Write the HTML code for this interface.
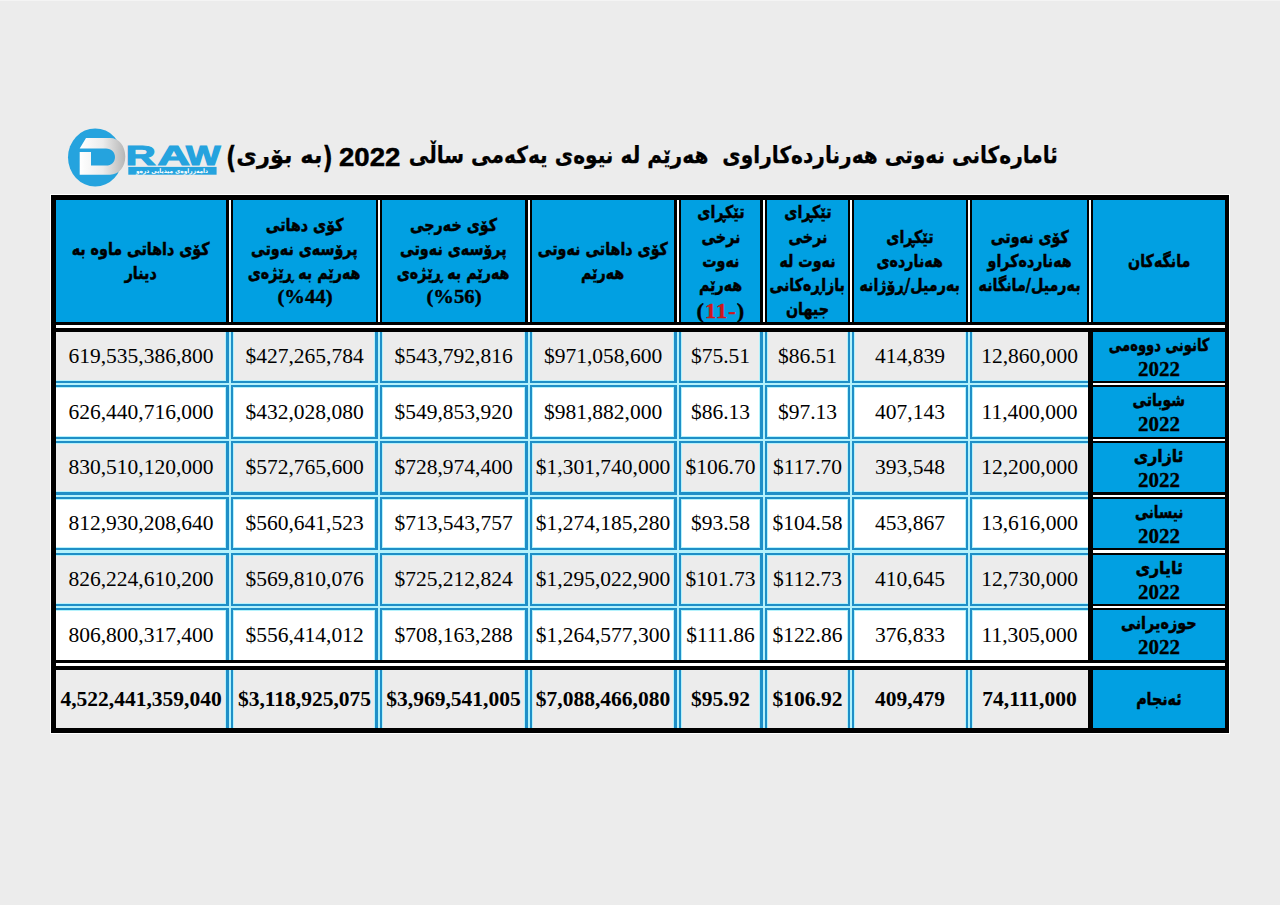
<!DOCTYPE html>
<html lang="ckb"><head><meta charset="utf-8"><title>ئامارەکانی نەوتی هەرێم</title>
<style>
html,body{margin:0;padding:0}
body{width:1280px;height:905px;background:#ececec;position:relative;overflow:hidden}
.a{position:absolute;box-sizing:border-box}
.c{display:flex;align-items:center;justify-content:center;text-align:center}
.col{display:flex;flex-direction:column;align-items:center;justify-content:center}
.hb{background:#01a0e2}
.k{font-family:"DejaVu Sans",sans-serif;font-weight:bold;color:#000;-webkit-text-stroke:.5px #000}
.hl{font-size:17.5px;height:24.25px;line-height:24.25px;direction:rtl;white-space:nowrap;transform:scaleX(.815)}
.hn{height:24.25px;line-height:24.25px;white-space:nowrap}
.n{font-family:"Liberation Serif",serif;font-weight:bold;font-size:19.5px;-webkit-text-stroke:.4px currentColor;display:inline-block;transform:scaleX(1.06)}
.red{color:#d0151b}
.pp{display:inline-block;transform:translateY(2.6px) scaleY(1.3)}
.num{font-family:"Liberation Serif",serif;font-size:21.5px;color:#000;white-space:nowrap}
.b{font-weight:bold}
.g{background:#ececec}
.w{background:#fff}
.bl{background:#1f8fc7}
.lc{background:#b4f2fc}
.blk{background:#000}
.wh{background:#fff}
</style></head><body>
<div class="a " style="left:0px;top:0px;width:1280px;height:1px;background:#f4f4f4"></div>
<svg class="a" style="left:0;top:0" width="240" height="195" viewBox="0 0 240 195">
<defs><linearGradient id="dg" gradientUnits="userSpaceOnUse" x1="80" y1="0" x2="126" y2="0"><stop offset="0" stop-color="#ffffff"/><stop offset=".5" stop-color="#ececec"/><stop offset="1" stop-color="#b4b4b4"/></linearGradient></defs>
<ellipse cx="95.2" cy="157.4" rx="27.2" ry="29" fill="#25a3de"/>
<path d="M86 138 H110 C119 138 125.3 146 125.3 156.5 C125.3 167 119 174.7 110 174.7 H79.7 V152 H91 V165.6 H106 C111.5 165.6 115 162 115 157 C115 152 111.5 148.4 106 148.4 H79.7 Z" fill="url(#dg)"/>
<g font-family="Liberation Sans, sans-serif" font-weight="bold" font-size="26.8" fill="#25a3de" stroke="#25a3de" stroke-width="1.1">
<text x="125.7" y="164.6" textLength="29.9" lengthAdjust="spacingAndGlyphs">R</text>
<text x="157.5" y="164.6" textLength="32.5" lengthAdjust="spacingAndGlyphs">A</text>
<text x="186" y="164.6" textLength="34.5" lengthAdjust="spacingAndGlyphs">W</text>
</g>
<rect x="128.3" y="166.9" width="88.3" height="7.8" fill="#25a3de"/>
<text x="172" y="173.2" font-family="DejaVu Sans, sans-serif" font-weight="bold" font-size="6.2" fill="#fff" text-anchor="middle" direction="rtl" textLength="72" lengthAdjust="spacingAndGlyphs">دامەزراوەی میدیایی درەو</text>
</svg>
<div class="a k" style="-webkit-text-stroke:.25px #000;right:222.5px;top:134.5px;height:40px;line-height:40px;font-size:23.4px;direction:rtl;white-space:pre;transform:scaleX(.861);transform-origin:100% 50%">ئامارەکانی نەوتی هەرناردەکاراوی  هەرێم لە نیوەی یەکەمی ساڵی</div>
<div class="a" style="left:339px;top:136.5px;height:40px;line-height:40px;font-family:&quot;Liberation Sans&quot;,sans-serif;font-weight:bold;font-size:26.5px;-webkit-text-stroke:.5px #000;white-space:nowrap;transform:scaleX(1.04);transform-origin:0 50%">2022</div>
<div class="a k" style="-webkit-text-stroke:.25px #000;left:226px;top:134.5px;height:40px;line-height:40px;font-size:23.4px;direction:rtl;white-space:pre;transform:scaleX(.963);transform-origin:0 50%"><span class="pp">(</span>بە بۆری<span class="pp">)</span></div>
<div class="a wh" style="left:50px;top:194px;width:1180px;height:540px;"></div>
<div class="a blk" style="left:51px;top:195px;width:1178px;height:538px;"></div>
<div class="a hb col" style="left:56px;top:200px;width:170px;height:122px;"><div class="k hl">کۆی داهاتی ماوە بە</div><div class="k hl">دینار</div></div>
<div class="a hb col" style="left:233px;top:200px;width:143px;height:122px;"><div class="k hl">کۆی دهاتی</div><div class="k hl">پرۆسەی نەوتی</div><div class="k hl">هەرێم بە ڕێژەی</div><div class="hn"><span class='n'>(%44)</span></div></div>
<div class="a hb col" style="left:382px;top:200px;width:143px;height:122px;"><div class="k hl">کۆی خەرجی</div><div class="k hl">پرۆسەی نەوتی</div><div class="k hl">هەرێم بە ڕێژەی</div><div class="hn"><span class='n'>(%56)</span></div></div>
<div class="a hb col" style="left:532px;top:200px;width:142px;height:122px;"><div class="k hl">کۆی داهاتی نەوتی</div><div class="k hl">هەرێم</div></div>
<div class="a hb col" style="left:681px;top:200px;width:79px;height:122px;"><div class="k hl">تێکڕای</div><div class="k hl">نرخی</div><div class="k hl">نەوت</div><div class="k hl">هەرێم</div><div class="hn"><bdo dir='ltr' class='n' style='font-size:21px;letter-spacing:1px;position:relative;top:2px'>(<span class='red'>11-</span>)</bdo></div></div>
<div class="a hb col" style="left:767px;top:200px;width:81px;height:122px;"><div class="k hl">تێکڕای</div><div class="k hl">نرخی</div><div class="k hl">نەوت لە</div><div class="k hl">بازاڕەکانی</div><div class="k hl">جیهان</div></div>
<div class="a hb col" style="left:854px;top:200px;width:112px;height:122px;"><div class="k hl">تێکڕای</div><div class="k hl">هەناردەی</div><div class="k hl">بەرمیل/ڕۆژانە</div></div>
<div class="a hb col" style="left:972px;top:200px;width:115px;height:122px;"><div class="k hl">کۆی نەوتی</div><div class="k hl">هەناردەکراو</div><div class="k hl">بەرمیل/مانگانە</div></div>
<div class="a hb col" style="left:1093px;top:200px;width:132px;height:122px;"><div class="k hl">مانگەکان</div></div>
<div class="a wh" style="left:229px;top:200px;width:2px;height:122px;"></div>
<div class="a wh" style="left:378px;top:200px;width:2px;height:122px;"></div>
<div class="a wh" style="left:528px;top:200px;width:2px;height:122px;"></div>
<div class="a wh" style="left:677px;top:200px;width:2px;height:122px;"></div>
<div class="a wh" style="left:763px;top:200px;width:2px;height:122px;"></div>
<div class="a wh" style="left:850px;top:200px;width:2px;height:122px;"></div>
<div class="a wh" style="left:968px;top:200px;width:2px;height:122px;"></div>
<div class="a wh" style="left:1089px;top:200px;width:2px;height:122px;"></div>
<div class="a wh" style="left:56px;top:325px;width:1169px;height:3px;"></div>
<div class="a wh" style="left:56px;top:663px;width:1169px;height:3px;"></div>
<div class="a g" style="left:56px;top:332px;width:1032px;height:49px;"></div>
<div class="a w" style="left:56px;top:387px;width:1032px;height:50px;"></div>
<div class="a g" style="left:56px;top:443px;width:1032px;height:49px;"></div>
<div class="a w" style="left:56px;top:499px;width:1032px;height:49px;"></div>
<div class="a g" style="left:56px;top:555px;width:1032px;height:49px;"></div>
<div class="a w" style="left:56px;top:610px;width:1032px;height:50px;"></div>
<div class="a g" style="left:56px;top:670px;width:1032px;height:58px;"></div>
<div class="a lc" style="left:56px;top:380px;width:1032px;height:8px;"></div>
<div class="a lc" style="left:56px;top:436px;width:1032px;height:8px;"></div>
<div class="a lc" style="left:56px;top:491px;width:1032px;height:9px;"></div>
<div class="a lc" style="left:56px;top:547px;width:1032px;height:9px;"></div>
<div class="a lc" style="left:56px;top:603px;width:1032px;height:8px;"></div>
<div class="a lc" style="left:225px;top:332px;width:9px;height:328px;"></div>
<div class="a lc" style="left:225px;top:670px;width:9px;height:58px;"></div>
<div class="a lc" style="left:374px;top:332px;width:9px;height:328px;"></div>
<div class="a lc" style="left:374px;top:670px;width:9px;height:58px;"></div>
<div class="a lc" style="left:524px;top:332px;width:9px;height:328px;"></div>
<div class="a lc" style="left:524px;top:670px;width:9px;height:58px;"></div>
<div class="a lc" style="left:673px;top:332px;width:9px;height:328px;"></div>
<div class="a lc" style="left:673px;top:670px;width:9px;height:58px;"></div>
<div class="a lc" style="left:759px;top:332px;width:9px;height:328px;"></div>
<div class="a lc" style="left:759px;top:670px;width:9px;height:58px;"></div>
<div class="a lc" style="left:847px;top:332px;width:8px;height:328px;"></div>
<div class="a lc" style="left:847px;top:670px;width:8px;height:58px;"></div>
<div class="a lc" style="left:965px;top:332px;width:8px;height:328px;"></div>
<div class="a lc" style="left:965px;top:670px;width:8px;height:58px;"></div>
<div class="a bl" style="left:56px;top:381px;width:1032px;height:2px;"></div>
<div class="a bl" style="left:56px;top:385px;width:1032px;height:2px;"></div>
<div class="a bl" style="left:56px;top:437px;width:1032px;height:2px;"></div>
<div class="a bl" style="left:56px;top:441px;width:1032px;height:2px;"></div>
<div class="a bl" style="left:56px;top:492px;width:1032px;height:3px;"></div>
<div class="a bl" style="left:56px;top:497px;width:1032px;height:2px;"></div>
<div class="a bl" style="left:56px;top:548px;width:1032px;height:2px;"></div>
<div class="a bl" style="left:56px;top:553px;width:1032px;height:2px;"></div>
<div class="a bl" style="left:56px;top:604px;width:1032px;height:2px;"></div>
<div class="a bl" style="left:56px;top:608px;width:1032px;height:2px;"></div>
<div class="a bl" style="left:226px;top:332px;width:3px;height:328px;"></div>
<div class="a bl" style="left:231px;top:332px;width:2px;height:328px;"></div>
<div class="a bl" style="left:226px;top:670px;width:3px;height:58px;"></div>
<div class="a bl" style="left:231px;top:670px;width:2px;height:58px;"></div>
<div class="a bl" style="left:375px;top:332px;width:3px;height:328px;"></div>
<div class="a bl" style="left:380px;top:332px;width:2px;height:328px;"></div>
<div class="a bl" style="left:375px;top:670px;width:3px;height:58px;"></div>
<div class="a bl" style="left:380px;top:670px;width:2px;height:58px;"></div>
<div class="a bl" style="left:525px;top:332px;width:3px;height:328px;"></div>
<div class="a bl" style="left:530px;top:332px;width:2px;height:328px;"></div>
<div class="a bl" style="left:525px;top:670px;width:3px;height:58px;"></div>
<div class="a bl" style="left:530px;top:670px;width:2px;height:58px;"></div>
<div class="a bl" style="left:674px;top:332px;width:3px;height:328px;"></div>
<div class="a bl" style="left:679px;top:332px;width:2px;height:328px;"></div>
<div class="a bl" style="left:674px;top:670px;width:3px;height:58px;"></div>
<div class="a bl" style="left:679px;top:670px;width:2px;height:58px;"></div>
<div class="a bl" style="left:760px;top:332px;width:3px;height:328px;"></div>
<div class="a bl" style="left:765px;top:332px;width:2px;height:328px;"></div>
<div class="a bl" style="left:760px;top:670px;width:3px;height:58px;"></div>
<div class="a bl" style="left:765px;top:670px;width:2px;height:58px;"></div>
<div class="a bl" style="left:848px;top:332px;width:2px;height:328px;"></div>
<div class="a bl" style="left:852px;top:332px;width:2px;height:328px;"></div>
<div class="a bl" style="left:848px;top:670px;width:2px;height:58px;"></div>
<div class="a bl" style="left:852px;top:670px;width:2px;height:58px;"></div>
<div class="a bl" style="left:966px;top:332px;width:2px;height:328px;"></div>
<div class="a bl" style="left:970px;top:332px;width:2px;height:328px;"></div>
<div class="a bl" style="left:966px;top:670px;width:2px;height:58px;"></div>
<div class="a bl" style="left:970px;top:670px;width:2px;height:58px;"></div>
<div class="a lc" style="left:56px;top:383px;width:1032px;height:2px;"></div>
<div class="a lc" style="left:56px;top:439px;width:1032px;height:2px;"></div>
<div class="a lc" style="left:56px;top:495px;width:1032px;height:2px;"></div>
<div class="a lc" style="left:56px;top:550px;width:1032px;height:3px;"></div>
<div class="a lc" style="left:56px;top:606px;width:1032px;height:2px;"></div>
<div class="a lc" style="left:229px;top:332px;width:2px;height:328px;"></div>
<div class="a lc" style="left:229px;top:670px;width:2px;height:58px;"></div>
<div class="a lc" style="left:378px;top:332px;width:2px;height:328px;"></div>
<div class="a lc" style="left:378px;top:670px;width:2px;height:58px;"></div>
<div class="a lc" style="left:528px;top:332px;width:2px;height:328px;"></div>
<div class="a lc" style="left:528px;top:670px;width:2px;height:58px;"></div>
<div class="a lc" style="left:677px;top:332px;width:2px;height:328px;"></div>
<div class="a lc" style="left:677px;top:670px;width:2px;height:58px;"></div>
<div class="a lc" style="left:763px;top:332px;width:2px;height:328px;"></div>
<div class="a lc" style="left:763px;top:670px;width:2px;height:58px;"></div>
<div class="a lc" style="left:850px;top:332px;width:2px;height:328px;"></div>
<div class="a lc" style="left:850px;top:670px;width:2px;height:58px;"></div>
<div class="a lc" style="left:968px;top:332px;width:2px;height:328px;"></div>
<div class="a lc" style="left:968px;top:670px;width:2px;height:58px;"></div>
<div class="a hb col" style="left:1093px;top:332px;width:132px;height:49px;"><div class="k" style="font-size:17.5px;height:24px;line-height:24px;direction:rtl;white-space:nowrap;transform:scaleX(0.75)">کانونی دووەمی</div><div class="num b" style="height:24px;line-height:24px;font-size:21px;-webkit-text-stroke:.3px #000">2022</div></div>
<div class="a hb col" style="left:1093px;top:387px;width:132px;height:50px;"><div class="k" style="font-size:17.5px;height:24px;line-height:24px;direction:rtl;white-space:nowrap;transform:scaleX(0.8)">شوباتی</div><div class="num b" style="height:24px;line-height:24px;font-size:21px;-webkit-text-stroke:.3px #000">2022</div></div>
<div class="a hb col" style="left:1093px;top:443px;width:132px;height:49px;"><div class="k" style="font-size:17.5px;height:24px;line-height:24px;direction:rtl;white-space:nowrap;transform:scaleX(0.897)">ئازاری</div><div class="num b" style="height:24px;line-height:24px;font-size:21px;-webkit-text-stroke:.3px #000">2022</div></div>
<div class="a hb col" style="left:1093px;top:499px;width:132px;height:49px;"><div class="k" style="font-size:17.5px;height:24px;line-height:24px;direction:rtl;white-space:nowrap;transform:scaleX(0.773)">نیسانی</div><div class="num b" style="height:24px;line-height:24px;font-size:21px;-webkit-text-stroke:.3px #000">2022</div></div>
<div class="a hb col" style="left:1093px;top:555px;width:132px;height:49px;"><div class="k" style="font-size:17.5px;height:24px;line-height:24px;direction:rtl;white-space:nowrap;transform:scaleX(0.905)">ئایاری</div><div class="num b" style="height:24px;line-height:24px;font-size:21px;-webkit-text-stroke:.3px #000">2022</div></div>
<div class="a hb col" style="left:1093px;top:610px;width:132px;height:50px;"><div class="k" style="font-size:17.5px;height:24px;line-height:24px;direction:rtl;white-space:nowrap;transform:scaleX(0.823)">حوزەیرانی</div><div class="num b" style="height:24px;line-height:24px;font-size:21px;-webkit-text-stroke:.3px #000">2022</div></div>
<div class="a blk" style="left:1093px;top:381px;width:132px;height:6px;"></div>
<div class="a wh" style="left:1093px;top:383px;width:132px;height:2px;"></div>
<div class="a blk" style="left:1093px;top:437px;width:132px;height:6px;"></div>
<div class="a wh" style="left:1093px;top:439px;width:132px;height:2px;"></div>
<div class="a blk" style="left:1093px;top:492px;width:132px;height:7px;"></div>
<div class="a wh" style="left:1093px;top:495px;width:132px;height:2px;"></div>
<div class="a blk" style="left:1093px;top:548px;width:132px;height:7px;"></div>
<div class="a wh" style="left:1093px;top:550px;width:132px;height:3px;"></div>
<div class="a blk" style="left:1093px;top:604px;width:132px;height:6px;"></div>
<div class="a wh" style="left:1093px;top:606px;width:132px;height:2px;"></div>
<div class="a hb c" style="left:1093px;top:670px;width:132px;height:58px;"><div class="k" style="font-size:17.5px;transform:scaleX(.815);direction:rtl">ئەنجام</div></div>
<div class="a c" style="left:56px;top:332px;width:170px;height:49px;"><span class="num">619,535,386,800</span></div>
<div class="a c" style="left:233px;top:332px;width:143px;height:49px;"><span class="num">$427,265,784</span></div>
<div class="a c" style="left:382px;top:332px;width:143px;height:49px;"><span class="num">$543,792,816</span></div>
<div class="a c" style="left:532px;top:332px;width:142px;height:49px;"><span class="num">$971,058,600</span></div>
<div class="a c" style="left:681px;top:332px;width:79px;height:49px;"><span class="num">$75.51</span></div>
<div class="a c" style="left:767px;top:332px;width:81px;height:49px;"><span class="num">$86.51</span></div>
<div class="a c" style="left:854px;top:332px;width:112px;height:49px;"><span class="num">414,839</span></div>
<div class="a c" style="left:972px;top:332px;width:115px;height:49px;"><span class="num">12,860,000</span></div>
<div class="a c" style="left:56px;top:387px;width:170px;height:50px;"><span class="num">626,440,716,000</span></div>
<div class="a c" style="left:233px;top:387px;width:143px;height:50px;"><span class="num">$432,028,080</span></div>
<div class="a c" style="left:382px;top:387px;width:143px;height:50px;"><span class="num">$549,853,920</span></div>
<div class="a c" style="left:532px;top:387px;width:142px;height:50px;"><span class="num">$981,882,000</span></div>
<div class="a c" style="left:681px;top:387px;width:79px;height:50px;"><span class="num">$86.13</span></div>
<div class="a c" style="left:767px;top:387px;width:81px;height:50px;"><span class="num">$97.13</span></div>
<div class="a c" style="left:854px;top:387px;width:112px;height:50px;"><span class="num">407,143</span></div>
<div class="a c" style="left:972px;top:387px;width:115px;height:50px;"><span class="num">11,400,000</span></div>
<div class="a c" style="left:56px;top:443px;width:170px;height:49px;"><span class="num">830,510,120,000</span></div>
<div class="a c" style="left:233px;top:443px;width:143px;height:49px;"><span class="num">$572,765,600</span></div>
<div class="a c" style="left:382px;top:443px;width:143px;height:49px;"><span class="num">$728,974,400</span></div>
<div class="a c" style="left:532px;top:443px;width:142px;height:49px;"><span class="num">$1,301,740,000</span></div>
<div class="a c" style="left:681px;top:443px;width:79px;height:49px;"><span class="num">$106.70</span></div>
<div class="a c" style="left:767px;top:443px;width:81px;height:49px;"><span class="num">$117.70</span></div>
<div class="a c" style="left:854px;top:443px;width:112px;height:49px;"><span class="num">393,548</span></div>
<div class="a c" style="left:972px;top:443px;width:115px;height:49px;"><span class="num">12,200,000</span></div>
<div class="a c" style="left:56px;top:499px;width:170px;height:49px;"><span class="num">812,930,208,640</span></div>
<div class="a c" style="left:233px;top:499px;width:143px;height:49px;"><span class="num">$560,641,523</span></div>
<div class="a c" style="left:382px;top:499px;width:143px;height:49px;"><span class="num">$713,543,757</span></div>
<div class="a c" style="left:532px;top:499px;width:142px;height:49px;"><span class="num">$1,274,185,280</span></div>
<div class="a c" style="left:681px;top:499px;width:79px;height:49px;"><span class="num">$93.58</span></div>
<div class="a c" style="left:767px;top:499px;width:81px;height:49px;"><span class="num">$104.58</span></div>
<div class="a c" style="left:854px;top:499px;width:112px;height:49px;"><span class="num">453,867</span></div>
<div class="a c" style="left:972px;top:499px;width:115px;height:49px;"><span class="num">13,616,000</span></div>
<div class="a c" style="left:56px;top:555px;width:170px;height:49px;"><span class="num">826,224,610,200</span></div>
<div class="a c" style="left:233px;top:555px;width:143px;height:49px;"><span class="num">$569,810,076</span></div>
<div class="a c" style="left:382px;top:555px;width:143px;height:49px;"><span class="num">$725,212,824</span></div>
<div class="a c" style="left:532px;top:555px;width:142px;height:49px;"><span class="num">$1,295,022,900</span></div>
<div class="a c" style="left:681px;top:555px;width:79px;height:49px;"><span class="num">$101.73</span></div>
<div class="a c" style="left:767px;top:555px;width:81px;height:49px;"><span class="num">$112.73</span></div>
<div class="a c" style="left:854px;top:555px;width:112px;height:49px;"><span class="num">410,645</span></div>
<div class="a c" style="left:972px;top:555px;width:115px;height:49px;"><span class="num">12,730,000</span></div>
<div class="a c" style="left:56px;top:610px;width:170px;height:50px;"><span class="num">806,800,317,400</span></div>
<div class="a c" style="left:233px;top:610px;width:143px;height:50px;"><span class="num">$556,414,012</span></div>
<div class="a c" style="left:382px;top:610px;width:143px;height:50px;"><span class="num">$708,163,288</span></div>
<div class="a c" style="left:532px;top:610px;width:142px;height:50px;"><span class="num">$1,264,577,300</span></div>
<div class="a c" style="left:681px;top:610px;width:79px;height:50px;"><span class="num">$111.86</span></div>
<div class="a c" style="left:767px;top:610px;width:81px;height:50px;"><span class="num">$122.86</span></div>
<div class="a c" style="left:854px;top:610px;width:112px;height:50px;"><span class="num">376,833</span></div>
<div class="a c" style="left:972px;top:610px;width:115px;height:50px;"><span class="num">11,305,000</span></div>
<div class="a c" style="left:56px;top:670px;width:170px;height:58px;"><span class="num b">4,522,441,359,040</span></div>
<div class="a c" style="left:233px;top:670px;width:143px;height:58px;"><span class="num b">$3,118,925,075</span></div>
<div class="a c" style="left:382px;top:670px;width:143px;height:58px;"><span class="num b">$3,969,541,005</span></div>
<div class="a c" style="left:532px;top:670px;width:142px;height:58px;"><span class="num b">$7,088,466,080</span></div>
<div class="a c" style="left:681px;top:670px;width:79px;height:58px;"><span class="num b">$95.92</span></div>
<div class="a c" style="left:767px;top:670px;width:81px;height:58px;"><span class="num b">$106.92</span></div>
<div class="a c" style="left:854px;top:670px;width:112px;height:58px;"><span class="num b">409,479</span></div>
<div class="a c" style="left:972px;top:670px;width:115px;height:58px;"><span class="num b">74,111,000</span></div>
</body></html>
